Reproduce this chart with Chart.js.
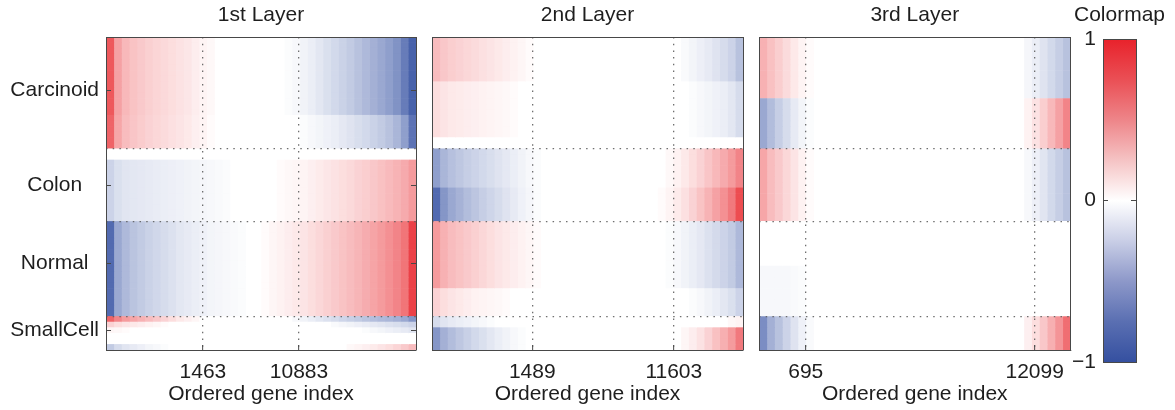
<!DOCTYPE html>
<html>
<head>
<meta charset="utf-8">
<script src="https://cdn.jsdelivr.net/npm/chart.js@4.4.1/dist/chart.umd.min.js"></script>
<style>
  body { margin: 0; background: #fff; }
  .wrap { position: relative; width: 1175px; height: 410px; }
  canvas { position: absolute; top: 0; }
</style>
</head>
<body>
<div class="wrap">
  <canvas id="layer1" width="425" height="410" style="left:0px"></canvas>
  <canvas id="layer2" width="325" height="410" style="left:425px"></canvas>
  <canvas id="layer3" width="330" height="410" style="left:750px"></canvas>
  <canvas id="cbar" width="111" height="410" style="left:1064px"></canvas>
</div>
<script>
// sample groups (rows, top to bottom)
const groups = ['Carcinoid', 'Colon', 'Normal', 'SmallCell']
const groupSizes = [20, 13, 17, 6]
const groupLabelRows = [9.5, 26.5, 40.5, 52.5]
const groupEdges = [20, 33, 50]

// ordered gene index, shown in 40 columns per layer
const nCols = 40
const layerTitles = ['1st Layer', '2nd Layer', '3rd Layer']
const tickCols1 = [12.5, 24.9]
const tickLabels1 = ['1463', '10883']
const tickCols2 = [12.9, 31.1]
const tickLabels2 = ['1489', '11603']
const tickCols3 = [6.0, 35.4]
const tickLabels3 = ['695', '12099']

// bands of rows: number of samples, values from the left edge, values ending at the right edge
const bandRows1 = [14, 6, 2, 11, 17, 1, 1, 1, 2, 1]
const bandLeft1 = [
  [0.75, 0.42, 0.32, 0.27, 0.24, 0.21, 0.19, 0.17, 0.15, 0.13, 0.11, 0.08, 0.05, 0.03],
  [0.7, 0.4, 0.3, 0.26, 0.23, 0.2, 0.18, 0.16, 0.14, 0.12, 0.1, 0.07, 0.05, 0.02],
  [],
  [-0.25, -0.18, -0.15, -0.14, -0.13, -0.12, -0.11, -0.1, -0.09, -0.08, -0.07, -0.06, -0.05, -0.04, -0.03, -0.02],
  [-0.85, -0.5, -0.4, -0.34, -0.3, -0.26, -0.23, -0.2, -0.17, -0.14, -0.12, -0.1, -0.08, -0.06, -0.05, -0.04, -0.03, -0.02],
  [0.7, 0.55, 0.45, 0.4, 0.35, 0.3, 0.25, 0.2, 0.15, 0.1, 0.07, 0.04],
  [0.2, 0.15, 0.12, 0.1, 0.08, 0.06, 0.04, 0.02],
  [0.04, 0.03, 0.02],
  [],
  [-0.3, -0.2, -0.15, -0.12, -0.09, -0.06, -0.04, -0.02]
]
const bandRight1 = [
  [-0.02, -0.04, -0.07, -0.1, -0.14, -0.18, -0.22, -0.26, -0.3, -0.35, -0.4, -0.45, -0.5, -0.55, -0.62, -0.75, -0.9],
  [-0.02, -0.04, -0.06, -0.08, -0.1, -0.13, -0.16, -0.19, -0.22, -0.26, -0.3, -0.35, -0.42, -0.55, -0.8],
  [],
  [0.02, 0.03, 0.04, 0.05, 0.07, 0.09, 0.11, 0.13, 0.15, 0.17, 0.2, 0.22, 0.25, 0.28, 0.31, 0.34, 0.38, 0.45],
  [0.02, 0.04, 0.06, 0.08, 0.1, 0.12, 0.15, 0.18, 0.21, 0.24, 0.27, 0.3, 0.33, 0.37, 0.41, 0.45, 0.5, 0.55, 0.62, 0.85],
  [-0.04, -0.07, -0.1, -0.14, -0.17, -0.2, -0.24, -0.27, -0.3, -0.34, -0.37, -0.4, -0.42, -0.45, -0.5, -0.6],
  [-0.03, -0.05, -0.07, -0.09, -0.11, -0.13, -0.15, -0.17, -0.19, -0.22, -0.25],
  [-0.02, -0.04, -0.06, -0.08, -0.1, -0.12, -0.15],
  [],
  [0.03, 0.05, 0.07, 0.09, 0.12, 0.15, 0.19, 0.24, 0.3]
]

const bandRows2 = [8, 10, 2, 7, 6, 12, 5, 2, 4]
const bandLeft2 = [
  [0.3, 0.25, 0.22, 0.2, 0.18, 0.16, 0.14, 0.12, 0.1, 0.08, 0.06, 0.04, 0.02],
  [0.15, 0.12, 0.1, 0.09, 0.08, 0.07, 0.06, 0.05, 0.04, 0.03, 0.02],
  [],
  [-0.55, -0.42, -0.36, -0.32, -0.28, -0.25, -0.22, -0.19, -0.16, -0.13, -0.1, -0.07, -0.04, -0.02],
  [-0.85, -0.6, -0.5, -0.44, -0.38, -0.33, -0.28, -0.24, -0.2, -0.16, -0.12, -0.08, -0.05, -0.02],
  [0.45, 0.35, 0.3, 0.27, 0.24, 0.21, 0.18, 0.15, 0.12, 0.1, 0.08, 0.06, 0.04, 0.02],
  [0.2, 0.15, 0.12, 0.1, 0.08, 0.06, 0.05, 0.04, 0.03, 0.02],
  [-0.2, -0.15, -0.12, -0.1, -0.08, -0.06, -0.04, -0.02],
  [-0.6, -0.45, -0.38, -0.32, -0.27, -0.22, -0.18, -0.14, -0.1, -0.07, -0.04, -0.02]
]
const bandRight2 = [
  [-0.03, -0.06, -0.09, -0.12, -0.16, -0.2, -0.25, -0.35],
  [-0.02, -0.04, -0.06, -0.08, -0.1, -0.14, -0.2],
  [],
  [0.03, 0.06, 0.1, 0.15, 0.2, 0.26, 0.32, 0.38, 0.45, 0.55],
  [0.02, 0.05, 0.09, 0.14, 0.2, 0.27, 0.34, 0.42, 0.5, 0.6, 0.8],
  [-0.02, -0.04, -0.07, -0.1, -0.13, -0.17, -0.21, -0.25, -0.3, -0.4],
  [-0.02, -0.04, -0.07, -0.1, -0.14, -0.18, -0.25],
  [0.03, 0.05],
  [0.04, 0.08, 0.13, 0.2, 0.28, 0.36, 0.45, 0.6]
]

const bandRows3 = [11, 9, 13, 8, 9, 6]
const bandLeft3 = [
  [0.35, 0.28, 0.22, 0.16, 0.1, 0.05, 0.02],
  [-0.5, -0.38, -0.28, -0.2, -0.12, -0.06, -0.02],
  [0.4, 0.3, 0.24, 0.18, 0.12, 0.06, 0.02],
  [],
  [-0.04, -0.04, -0.04, -0.04, -0.03, -0.02],
  [-0.65, -0.45, -0.35, -0.25, -0.16, -0.08, -0.03]
]
const bandRight3 = [
  [-0.05, -0.1, -0.16, -0.22, -0.28, -0.35],
  [0.06, 0.13, 0.22, 0.32, 0.42, 0.55],
  [-0.04, -0.09, -0.15, -0.22, -0.28, -0.35],
  [],
  [],
  [0.07, 0.15, 0.25, 0.36, 0.48, 0.65]
]

// colormap
const cbTicks = [-1, 0, 1]
const cbLabels = ['\u22121', '0', '1']
const cbMarks = [0]
const cbStops = [-1, -0.75, -0.5, -0.25, 0, 0.25, 0.5, 0.75, 1]
const cbColors = ['#3550a0', '#5a6fb2', '#8d98c9', '#c9cee6', '#ffffff', '#f5c3c4', '#ee8589', '#ea4f55', '#e8222b']
const redEnd = [232, 32, 38]
const blueEnd = [52, 80, 162]

const FONT = { family: 'Liberation Sans, Arial, sans-serif', size: 21 }
const TEXT = '#1e1e1e'
const FRAME = '#484848'
const DOTS = 'rgba(95,95,95,0.9)'

function cmap(v) {
    const end = v >= 0 ? redEnd : blueEnd
    const t = Math.min(1, Math.abs(v))
    const c = end.map(e => Math.round(255 + (e - 255) * t))
    return 'rgb(' + c.join(',') + ')'
}

function expandRows(bandRows, bandLeft, bandRight) {
    const rows = []
    bandRows.forEach((n, b) => {
        const vals = new Array(nCols).fill(0)
        bandLeft[b].forEach((v, i) => { vals[i] = v })
        const off = nCols - bandRight[b].length
        bandRight[b].forEach((v, i) => { vals[off + i] = v })
        for (let k = 0; k < n; k++) rows.push(vals)
    })
    return rows
}

function heatDatasets(rows) {
    const sets = []
    for (let c = 0; c < nCols; c++) {
        sets.push({
            data: rows.map((r, s) => ({ x: [c, c + 1], y: s + 0.5 })),
            backgroundColor: rows.map(r => cmap(r[c])),
            borderWidth: 0,
            grouped: false,
            barPercentage: 1,
            categoryPercentage: 1
        })
    }
    return sets
}

// frame line on every side, drawn above the cells
const frame = { display: true, color: FRAME, width: 1, z: 2 }
const dottedFrame = { display: true, color: FRAME, width: 1, z: 2, dash: [1.5, 5.2] }
const noGrid = { display: false, drawTicks: false, offset: false }
// dotted lines across the plot plus short inward tick marks
const dottedGrid = { display: true, offset: false, drawTicks: true, tickLength: -5, tickColor: FRAME, tickWidth: 1, tickBorderDash: [], color: DOTS, lineWidth: 1.3, z: 1 }
const dottedLines = { display: true, offset: false, drawTicks: false, color: DOTS, lineWidth: 1.3, z: 1 }
const inwardTicks = { display: true, offset: false, drawOnChartArea: false, drawTicks: true, tickLength: -5, tickColor: FRAME, tickWidth: 1, z: 2 }

function layerChart(id, idx, rows, tickCols, tickLabels, pad, showNames) {
    const nRows = groupSizes.reduce((a, b) => a + b, 0)
    const scales = {
        x: {
            type: 'linear', position: 'bottom', min: 0, max: nCols, offset: false,
            afterBuildTicks: a => { a.ticks = tickCols.map(v => ({ value: v })) },
            afterFit: a => { a.height = 60 },
            ticks: { callback: (v, i) => tickLabels[i], padding: 15, font: FONT, color: TEXT, autoSkip: false, maxRotation: 0 },
            grid: dottedGrid,
            border: dottedFrame,
            title: { display: true, text: 'Ordered gene index', font: FONT, color: TEXT, padding: { top: 0, bottom: 3 } }
        },
        x2: {
            type: 'linear', position: 'top', min: 0, max: nCols, offset: false,
            afterFit: a => { a.height = 37 },
            ticks: { display: false },
            grid: noGrid,
            border: frame,
            title: { display: true, text: layerTitles[idx], font: FONT, color: TEXT, padding: { top: 3, bottom: 0 } }
        },
        y: {
            type: 'linear', position: 'left', min: 0, max: nRows, reverse: true, offset: false,
            afterBuildTicks: a => { a.ticks = groupLabelRows.map(v => ({ value: v })) },
            afterFit: a => { a.width = showNames ? 106 : 0 },
            ticks: { display: showNames, callback: (v, i) => groups[i], crossAlign: 'center', padding: 12, font: FONT, color: TEXT, autoSkip: false },
            grid: showNames ? inwardTicks : noGrid,
            border: frame
        },
        y2: {
            type: 'linear', position: 'right', min: 0, max: nRows, reverse: true, offset: false,
            afterBuildTicks: a => { a.ticks = groupEdges.map(v => ({ value: v })) },
            afterFit: a => { a.width = 0 },
            ticks: { display: false },
            grid: dottedLines,
            border: dottedFrame
        }
    }
    if (showNames) {
        scales.y3 = {
            type: 'linear', position: 'right', min: 0, max: nRows, reverse: true, offset: false,
            afterBuildTicks: a => { a.ticks = groupLabelRows.map(v => ({ value: v })) },
            afterFit: a => { a.width = 0 },
            ticks: { display: false },
            grid: inwardTicks,
            border: { display: false }
        }
    }
    new Chart(document.getElementById(id), {
        type: 'bar',
        data: { datasets: heatDatasets(rows) },
        options: {
            indexAxis: 'y',
            responsive: false,
            animation: false,
            events: [],
            layout: { padding: pad },
            plugins: { legend: { display: false }, tooltip: { enabled: false } },
            scales: scales
        }
    })
}

layerChart('layer1', 0, expandRows(bandRows1, bandLeft1, bandRight1), tickCols1, tickLabels1, { left: 0, right: 9, top: 0, bottom: 0 }, true)
layerChart('layer2', 1, expandRows(bandRows2, bandLeft2, bandRight2), tickCols2, tickLabels2, { left: 7, right: 7, top: 0, bottom: 0 }, false)
layerChart('layer3', 2, expandRows(bandRows3, bandLeft3, bandRight3), tickCols3, tickLabels3, { left: 9, right: 9, top: 0, bottom: 0 }, false)

// colour bar
new Chart(document.getElementById('cbar'), {
    type: 'bar',
    data: {
        labels: ['Colormap'],
        datasets: [{
            data: [[cbTicks[0], cbTicks[cbTicks.length - 1]]],
            borderWidth: 0,
            barPercentage: 1,
            categoryPercentage: 1,
            backgroundColor: (ctx) => {
                const chart = ctx.chart
                if (!chart.chartArea) return '#fff'
                const ys = chart.scales.y
                const g = chart.ctx.createLinearGradient(0, ys.getPixelForValue(-1), 0, ys.getPixelForValue(1))
                cbStops.forEach((s, i) => g.addColorStop((s + 1) / 2, cbColors[i]))
                return g
            }
        }]
    },
    options: {
        responsive: false,
        animation: false,
        events: [],
        layout: { padding: 0 },
        plugins: {
            legend: { display: false },
            tooltip: { enabled: false },
            title: { display: true, text: 'Colormap', font: { ...FONT, weight: 'normal' }, color: TEXT, padding: { top: 3, bottom: 11 } }
        },
        scales: {
            x: {
                position: 'bottom',
                afterFit: a => { a.height = 48 },
                ticks: { display: false },
                grid: noGrid,
                border: frame
            },
            x2: {
                type: 'linear', position: 'top',
                afterFit: a => { a.height = 0 },
                ticks: { display: false },
                grid: noGrid,
                border: frame
            },
            y: {
                type: 'linear', position: 'left', min: -1, max: 1,
                afterBuildTicks: a => { a.ticks = cbTicks.map(v => ({ value: v })) },
                afterFit: a => { a.width = 39 },
                ticks: { callback: (v, i) => cbLabels[i], padding: 12, font: FONT, color: TEXT, autoSkip: false },
                grid: inwardTicks,
                border: frame
            },
            y2: {
                type: 'linear', position: 'right', min: -1, max: 1,
                afterBuildTicks: a => { a.ticks = cbMarks.map(v => ({ value: v })) },
                afterFit: a => { a.width = 39 },
                ticks: { display: false },
                grid: inwardTicks,
                border: frame
            }
        }
    }
})
</script>
</body>
</html>
